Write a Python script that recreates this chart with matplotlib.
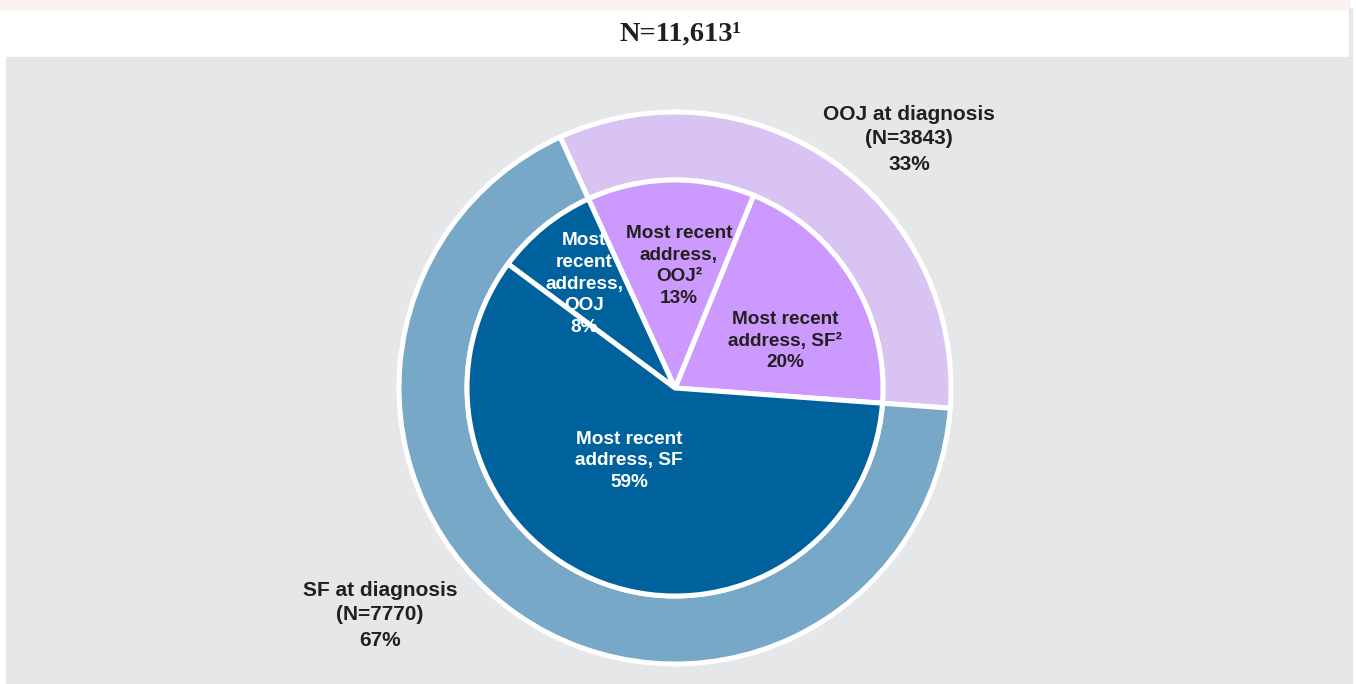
import matplotlib
matplotlib.use("Agg")
import matplotlib.pyplot as plt
from matplotlib.patches import Rectangle

plt.rcParams["font.family"] = ["Liberation Sans", "DejaVu Sans"]

# ---- data ----
total_n = "11,613"
outer_labels = ["OOJ at diagnosis\n(N=3843)\n33%", "SF at diagnosis\n(N=7770)\n67%"]
outer_pct = [33, 67]
inner_labels = ["Most recent\naddress, SF²\n20%",
                "Most recent\naddress,\nOOJ²\n13%",
                "Most\nrecent\naddress,\nOOJ\n8%",
                "Most recent\naddress, SF\n59%"]
inner_pct = [20, 13, 8, 59]

outer_colors = ["#D9C3F2", "#77A8C7"]
inner_colors = ["#CC99FF", "#CC99FF", "#00629D", "#00629D"]
inner_text_colors = ["#231F20", "#231F20", "white", "white"]

W, H = 1356, 684
fig = plt.figure(figsize=(W / 100, H / 100), dpi=100)
fig.patch.set_facecolor("white")
ax = fig.add_axes([0, 0, 1, 1])

# background bands (pixel coords, y up)
ax.add_patch(Rectangle((0, H - 9), 1350, 9, color="#FDF2F2", zorder=0))
ax.add_patch(Rectangle((6, 0), 1346, H - 57, color="#E6E7E8", zorder=0))
ax.add_patch(Rectangle((1349, H - 57), 3, 48, color="#E6E7E8", zorder=0))

cx, cy = 675, H - 388
R_out, R_in = 276, 208
start = -4.2
edge = dict(edgecolor="white", linewidth=3.6)

ax.pie(outer_pct, radius=R_out, center=(cx, cy), startangle=start,
       colors=outer_colors, wedgeprops=dict(width=R_out - R_in, **edge))
ax.pie(inner_pct, radius=R_in, center=(cx, cy), startangle=start,
       colors=inner_colors, wedgeprops=edge)

ax.set_xlim(0, W)
ax.set_ylim(0, H)
ax.axis("off")

# title band
fig.text(681 / W, 1 - 34 / H, f"N={total_n}¹", ha="center", va="center",
         fontsize=20.5, fontweight="bold", family=["Liberation Serif", "DejaVu Serif"],
         color="#231F20")

# outer labels (pixel positions in reference)
outer_pos = [(909, 139), (380, 615)]
for txt, (x, y) in zip(outer_labels, outer_pos):
    ax.text(x, H - y, txt, ha="center", va="center", fontsize=15,
            fontweight="bold", color="#231F20", linespacing=1.4)

inner_pos = [(785, 341), (679, 266), (584, 284), (629, 461)]
for txt, (x, y), c in zip(inner_labels, inner_pos, inner_text_colors):
    ax.text(x, H - y, txt, ha="center", va="center", fontsize=13.7,
            fontweight="bold", color=c, linespacing=1.35)

fig.savefig("out.png", dpi=100)
